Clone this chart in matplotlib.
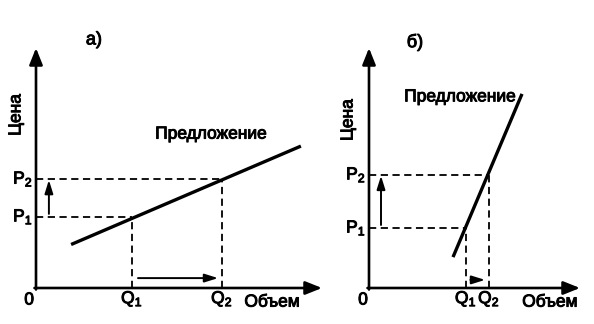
import matplotlib.pyplot as plt
import matplotlib.patheffects as pe

plt.rcParams['font.family'] = ['Liberation Sans', 'DejaVu Sans']
plt.rcParams['mathtext.fontset'] = 'custom'
plt.rcParams['mathtext.rm'] = 'Liberation Sans'

# panel a (elastic supply) - values in chart units
a_supply_q = [1.17, 8.83]
a_supply_p = [1.45, 4.73]
a_q = [3.2, 6.2]
a_p = [2.37, 3.63]

# panel b (inelastic supply)
b_supply_q = [2.8, 5.1]
b_supply_p = [1.03, 6.47]
b_q = [3.23, 4.0]
b_p = [2.0, 3.77]

q_labels = ['Q$_1$', 'Q$_2$']
p_labels = ['P$_1$', 'P$_2$']

W, H = 594, 324
SCALE = 30.0  # px per unit
FS = 12.5
heavy = [pe.withStroke(linewidth=0.7, foreground='black')]


def panel(fig, ox, oy, xmax, ymax, sq, sp, qs, ps, title, title_xy, sup_xy,
          cena_xy, zero_xy, obem_xy, up_x, right_y, ax_q_pad=0.2):
    ax = fig.add_axes([ox / W, (H - oy) / H, xmax * SCALE / W, ymax * SCALE / H])
    ax.set_xlim(0, xmax)
    ax.set_ylim(0, ymax)
    ax.axis('off')

    # axes with arrowheads
    arrow = dict(arrowstyle='-|>,head_length=1.0,head_width=0.4', color='black', lw=1.9,
                 shrinkA=0, shrinkB=0)
    ax.annotate('', xy=(xmax, 0), xytext=(-0.05, 0), arrowprops=arrow, annotation_clip=False)
    ax.annotate('', xy=(0, ymax), xytext=(0, -0.05), arrowprops=arrow, annotation_clip=False)

    # supply curve
    ax.plot(sq, sp, color='black', lw=2.4, solid_capstyle='butt', clip_on=False)

    # dashed guides
    for q, p in zip(qs, ps):
        ax.plot([0, q], [p, p], color='black', lw=1.3, ls=(0, (4, 2.5)), clip_on=False)
        ax.plot([q, q], [0, p], color='black', lw=1.3, ls=(0, (4, 2.5)), clip_on=False)

    small = dict(arrowstyle='-|>,head_length=0.8,head_width=0.25', color='black', lw=1.4,
                 shrinkA=0, shrinkB=0)
    ax.annotate('', xy=(up_x, ps[1] - 0.03), xytext=(up_x, ps[0] + 0.1), arrowprops=small,
                annotation_clip=False)
    ax.annotate('', xy=(qs[1] - 0.13, right_y), xytext=(qs[0] + ax_q_pad, right_y),
                arrowprops=small, annotation_clip=False)

    txt = dict(fontsize=FS, path_effects=heavy, ha='center', va='center')
    for q, lab in zip(qs, q_labels):
        ax.text(q, -0.36, lab, **txt)
    for p, lab in zip(ps, p_labels):
        ax.text(-0.1, p, lab, **{**txt, 'ha': 'right'})

    ax.text(*title_xy, title, **{**txt, 'fontsize': FS + 0.5})
    ax.text(*sup_xy, 'Предложение', **txt)
    ax.text(*cena_xy, 'Цена', rotation=90, **txt)
    ax.text(*zero_xy, '0', **txt)
    ax.text(*obem_xy, 'Объем', **txt)
    return ax


fig = plt.figure(figsize=(W / 100, H / 100), dpi=100)

panel(fig, 36, 288, (322 - 36) / SCALE, 8.0, a_supply_q, a_supply_p, a_q, a_p,
      'а)', (1.93, 8.27), (5.83, 5.13), (-0.67, 5.77), (-0.23, -0.4), (7.87, -0.47),
      up_x=0.43, right_y=0.33)

panel(fig, 369, 288, (580 - 369) / SCALE, 8.0, b_supply_q, b_supply_p, b_q, b_p,
      'б)', (1.53, 8.2), (3.03, 6.37), (-0.7, 5.6), (-0.2, -0.4), (6.03, -0.47),
      up_x=0.4, right_y=0.27, ax_q_pad=0.15)

fig.savefig('out.png', dpi=100, facecolor='white')
